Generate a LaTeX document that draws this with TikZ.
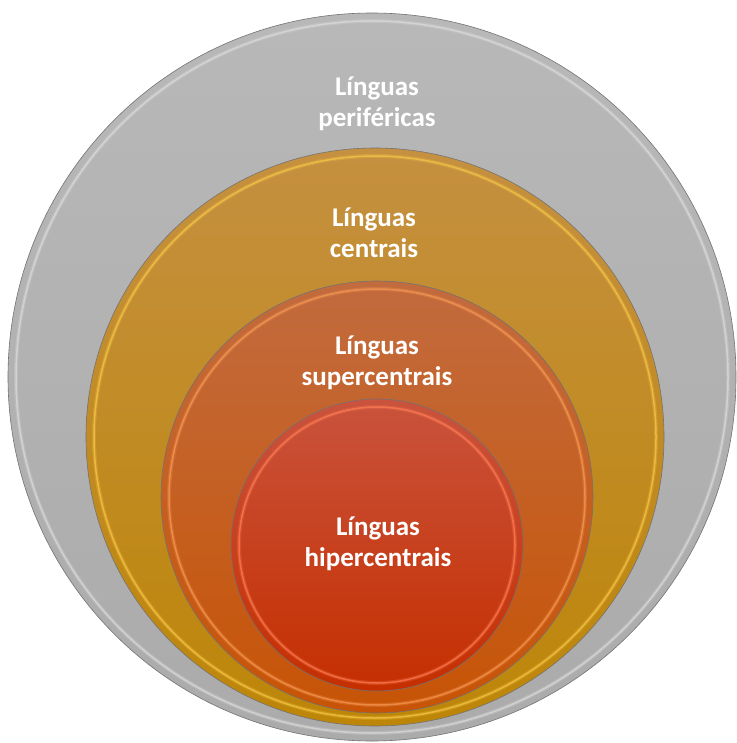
\documentclass[tikz,border=0pt]{standalone}
\usepackage{fontspec}
\setmainfont{Carlito}

\definecolor{periTop}{HTML}{B8B8B8}
\definecolor{periBot}{HTML}{ABABAB}
\definecolor{periRim}{HTML}{DCDCDC}
\definecolor{centTop}{HTML}{C59040}
\definecolor{centBot}{HTML}{BD8608}
\definecolor{centRim}{HTML}{F8C848}
\definecolor{superTop}{HTML}{C26B3E}
\definecolor{superBot}{HTML}{C75406}
\definecolor{superRim}{HTML}{F89A55}
\definecolor{hyperTop}{HTML}{C9533D}
\definecolor{hyperBot}{HTML}{C52F00}
\definecolor{hyperRim}{HTML}{FF7D55}

\def\xMin{0}
\def\xMax{736}
\def\yMin{0}
\def\yMax{743}

\begin{document}
\begin{tikzpicture}[x=1pt, y=-1pt,
    lbl/.style={text=white, align=center, font=\bfseries\fontsize{27}{31}\selectfont}]
      \useasboundingbox (\xMin,\yMin) rectangle (\xMax,\yMax);
      \foreach \cx/\cy/\r/\c in {372/377/364/peri, 375/437/289/cent, 377/497/216/super, 377/545/146/hyper} {
          \shade[top color=\c Top, bottom color=\c Bot] (\cx,\cy) circle [radius=\r];
          \draw[\c Rim, line width=4pt, opacity=0.25] (\cx,\cy) circle [radius=\r-8];
          \draw[\c Rim, line width=1.5pt, opacity=0.7] (\cx,\cy) circle [radius=\r-8];
          \draw[black!55, line width=0.6pt] (\cx,\cy) circle [radius=\r];
      }
      \node[lbl] (peri) at (377,104) {Línguas\\periféricas};
      \node[lbl] (cent) at (374,233) {Línguas\\centrais};
      \node[lbl] (super) at (377,363) {Línguas\\supercentrais};
      \node[lbl] (hyper) at (378,544) {Línguas\\hipercentrais};
    \end{tikzpicture}
\end{document}
